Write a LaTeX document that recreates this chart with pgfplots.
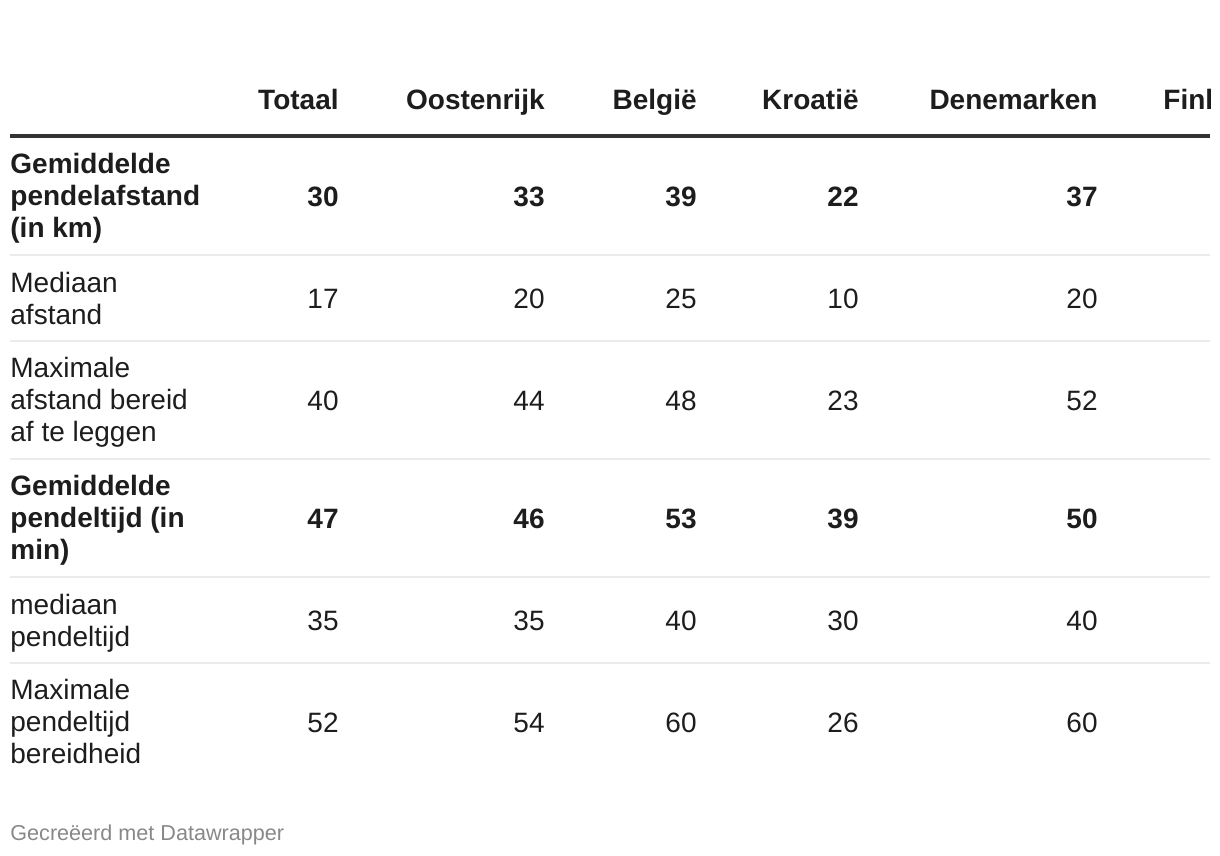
\documentclass[border=0pt]{standalone}
\usepackage{fontspec}
\setmainfont{Liberation Sans}
\usepackage{pgfplots}
\pgfplotsset{compat=1.18}
\definecolor{txt}{HTML}{1D1D1D}
\definecolor{sepc}{HTML}{EBEBEB}
\definecolor{hdr}{HTML}{333333}
\definecolor{foot}{HTML}{888888}
\newcommand{\body}{\fontsize{14}{16}\selectfont}
\pgfplotsset{
  valrow/.style={draw=none, mark=none, nodes near coords, point meta=explicit symbolic,
    every node near coord/.style={anchor=base east, inner sep=0pt, text=txt, font=\body#1}},
  seprule/.style={sepc, line width=1pt, mark=none},
}
\tikzset{lab/.style={anchor=base west, inner sep=0pt, text=txt, font=\body#1}}
\begin{document}
\begin{tikzpicture}
\begin{axis}[width=610pt, height=428pt, scale only axis,
  xmin=0, xmax=1220, ymin=0, ymax=856, y dir=reverse,
  hide axis, clip=false]
\coordinate (bl) at (axis cs:0,856);
\coordinate (tr) at (axis cs:1220,0);

% header rule and separators
\addplot[hdr, line width=1.5pt, mark=none] coordinates {(10,136) (1210,136)};
\addplot[seprule] coordinates {(10,255) (1210,255)};
\addplot[seprule] coordinates {(10,341) (1210,341)};
\addplot[seprule] coordinates {(10,459) (1210,459)};
\addplot[seprule] coordinates {(10,577) (1210,577)};
\addplot[seprule] coordinates {(10,663) (1210,663)};

% values: Totaal, Oostenrijk, Belgie, Kroatie, Denemarken
\addplot[valrow=\bfseries] coordinates {(339,206)[30] (545,206)[33] (697,206)[39] (859,206)[22] (1098,206)[37]};
\addplot[valrow=] coordinates {(339,308)[17] (545,308)[20] (697,308)[25] (859,308)[10] (1098,308)[20]};
\addplot[valrow=] coordinates {(339,410)[40] (545,410)[44] (697,410)[48] (859,410)[23] (1098,410)[52]};
\addplot[valrow=\bfseries] coordinates {(339,528)[47] (545,528)[46] (697,528)[53] (859,528)[39] (1098,528)[50]};
\addplot[valrow=] coordinates {(339,630)[35] (545,630)[35] (697,630)[40] (859,630)[30] (1098,630)[40]};
\addplot[valrow=] coordinates {(339,732)[52] (545,732)[54] (697,732)[60] (859,732)[26] (1098,732)[60]};

% column headers
\node[anchor=base east, inner sep=0pt, text=txt, font=\body\bfseries] at (axis cs:339,110) {Totaal};
\node[anchor=base east, inner sep=0pt, text=txt, font=\body\bfseries] at (axis cs:545,110) {Oostenrijk};
\node[anchor=base east, inner sep=0pt, text=txt, font=\body\bfseries] at (axis cs:697,110) {België};
\node[anchor=base east, inner sep=0pt, text=txt, font=\body\bfseries] at (axis cs:859,110) {Kroatië};
\node[anchor=base east, inner sep=0pt, text=txt, font=\body\bfseries] at (axis cs:1098,110) {Denemarken};
\begin{scope}
\clip (axis cs:0,0) rectangle (axis cs:1210,856);
\node[anchor=base west, inner sep=0pt, text=txt, font=\body\bfseries] at (axis cs:1163,110) {Finland};
\end{scope}

% row labels
\node[lab=\bfseries] at (axis cs:10,173) {Gemiddelde};
\node[lab=\bfseries] at (axis cs:10,205) {pendelafstand};
\node[lab=\bfseries] at (axis cs:10,237) {(in km)};
\node[lab=] at (axis cs:10,292) {Mediaan};
\node[lab=] at (axis cs:10,324) {afstand};
\node[lab=] at (axis cs:10,377) {Maximale};
\node[lab=] at (axis cs:10,409) {afstand bereid};
\node[lab=] at (axis cs:10,441) {af te leggen};
\node[lab=\bfseries] at (axis cs:10,495) {Gemiddelde};
\node[lab=\bfseries] at (axis cs:10,527) {pendeltijd (in};
\node[lab=\bfseries] at (axis cs:10,559) {min)};
\node[lab=] at (axis cs:10,614) {mediaan};
\node[lab=] at (axis cs:10,646) {pendeltijd};
\node[lab=] at (axis cs:10,699) {Maximale};
\node[lab=] at (axis cs:10,731) {pendeltijd};
\node[lab=] at (axis cs:10,763) {bereidheid};

% footer
\node[anchor=base west, inner sep=0pt, text=foot, font=\fontsize{10.8}{12}\selectfont] at (axis cs:10,840) {Gecreëerd met Datawrapper};
\end{axis}
\pgfresetboundingbox
\path (bl) rectangle (tr);
\end{tikzpicture}
\end{document}
